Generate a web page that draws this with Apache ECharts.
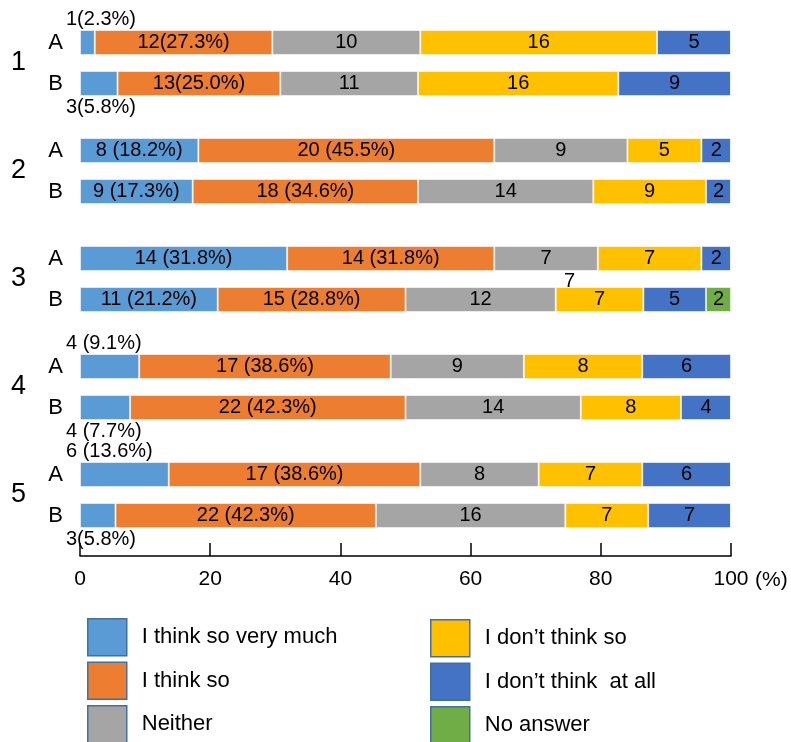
<!DOCTYPE html>
<html>
<head>
<meta charset="utf-8">
<script src="https://cdn.jsdelivr.net/npm/echarts@6/dist/echarts.min.js"></script>
<style>
  html, body { margin: 0; padding: 0; background: #fff; }
  #app { width: 791px; height: 742px; }
</style>
</head>
<body>
<div id="app"></div>
<script>
// questions and groups
const questions = ['1', '2', '3', '4', '5'];
const groups = ['A', 'B'];
const respondents = [44, 52]; // A, B (used for the % in the labels)

const answerNames = [
  'I think so very much',
  'I think so',
  'Neither',
  'I don\u2019t think so',
  'I don\u2019t think  at all',
  'No answer',
];
const answerColors = ['#5B9BD5', '#ED7D31', '#A5A5A5', '#FFC000', '#4472C4', '#70AD47'];

// counts per question: [A, B]
const veryMuch = [[1, 3], [8, 9], [14, 11], [4, 4], [6, 3]];
const thinkSo = [[12, 13], [20, 18], [14, 15], [17, 22], [17, 22]];
const neither = [[10, 11], [9, 14], [7, 12], [9, 14], [8, 16]];
const dontThink = [[16, 16], [5, 9], [7, 7], [8, 8], [7, 7]];
const notAtAll = [[5, 9], [2, 2], [2, 5], [6, 4], [6, 7]];
const noAnswer = [[0, 0], [0, 0], [0, 2], [0, 0], [0, 0]];

const counts = [veryMuch, thinkSo, neither, dontThink, notAtAll, noAnswer];

// questions whose "very much" label sits outside the bar
const outsideQuestions = [0, 3, 4];

const font = 'Liberation Sans, Arial, sans-serif';
const eChart = echarts.init(document.getElementById('app'));

function rowTotal(q, g) {
  let t = 0;
  counts.forEach((c) => { t += c[q][g]; });
  return t;
}

const grids = [];
const xAxes = [];
const yAxes = [];
const series = [];

questions.forEach((qName, q) => {
  const last = q === questions.length - 1;
  grids.push({ left: 80, right: 60, top: 22 + q * 108, height: 82 });
  xAxes.push({
    gridIndex: q,
    type: 'value',
    min: 0,
    max: 100,
    interval: 20,
    show: last,
    offset: 20,
    name: last ? '(%)' : '',
    nameLocation: 'end',
    nameGap: 24,
    nameTextStyle: {
      color: '#000', fontSize: 21, fontFamily: font,
      verticalAlign: 'top', padding: [14, 0, 0, 0],
    },
    axisLine: { show: true, lineStyle: { color: '#000', width: 1.5 } },
    axisTick: { show: true, inside: true, length: 13, lineStyle: { color: '#000', width: 1.5 } },
    axisLabel: { color: '#000', fontSize: 21, fontFamily: font, margin: 13 },
    splitLine: { show: false },
  });
  yAxes.push({
    gridIndex: q,
    type: 'category',
    data: groups,
    inverse: true,
    name: qName,
    nameLocation: 'middle',
    nameRotate: 0,
    nameGap: 54,
    nameTextStyle: { color: '#000', fontSize: 27, fontFamily: font },
    axisLine: { show: false },
    axisTick: { show: false },
    axisLabel: { color: '#000', fontSize: 22, fontFamily: font, margin: 17 },
  });

  counts.forEach((c, s) => {
    series.push({
      name: answerNames[s],
      type: 'bar',
      stack: 'q' + q,
      xAxisIndex: q,
      yAxisIndex: q,
      barWidth: 25,
      itemStyle: {
        color: answerColors[s],
        borderColor: 'rgba(255,255,255,0.55)',
        borderWidth: 1,
      },
      emphasis: { disabled: true },
      data: groups.map((g, gi) => {
        const n = c[q][gi];
        let text = String(n);
        if (s < 2) {
          const tight = q === 0 || (q === 4 && gi === 1 && s === 0);
          text = n + (tight ? '' : ' ') + '(' + (n / respondents[gi] * 100).toFixed(1) + '%)';
        }
        const label = {
          show: n > 0,
          formatter: text,
          position: 'inside',
          color: '#000',
          fontSize: 20,
          fontFamily: font,
        };
        if (s === 0 && outsideQuestions.indexOf(q) >= 0) {
          label.position = gi === 0 ? [-14, -11] : [-14, 36];
          label.align = 'left';
          label.verticalAlign = 'middle';
        }
        return { value: n / rowTotal(q, gi) * 100, label };
      }),
    });
  });
});

const legendBase = {
  orient: 'vertical',
  padding: 0,
  height: 140,
  itemWidth: 39,
  itemHeight: 37,
  itemGap: 5,
  icon: 'rect',
  selectedMode: false,
  itemStyle: { borderColor: '#41719C', borderWidth: 1.5 },
  textStyle: { color: '#000', fontSize: 22, fontFamily: font, padding: [0, 0, 0, 10] },
};

const option = {
  backgroundColor: '#fff',
  animation: false,
  textStyle: { fontFamily: font },
  grid: grids,
  xAxis: xAxes,
  yAxis: yAxes,
  legend: [
    Object.assign({}, legendBase, { left: 87, top: 618, data: answerNames.slice(0, 3) }),
    Object.assign({}, legendBase, { left: 430, top: 619, data: answerNames.slice(3) }),
  ],
  graphic: [
    {
      type: 'text',
      left: 564,
      top: 271,
      style: { text: '7', fill: '#000', font: '20px ' + font },
    },
  ],
  series: series,
};
eChart.setOption(option);
</script>
</body>
</html>
